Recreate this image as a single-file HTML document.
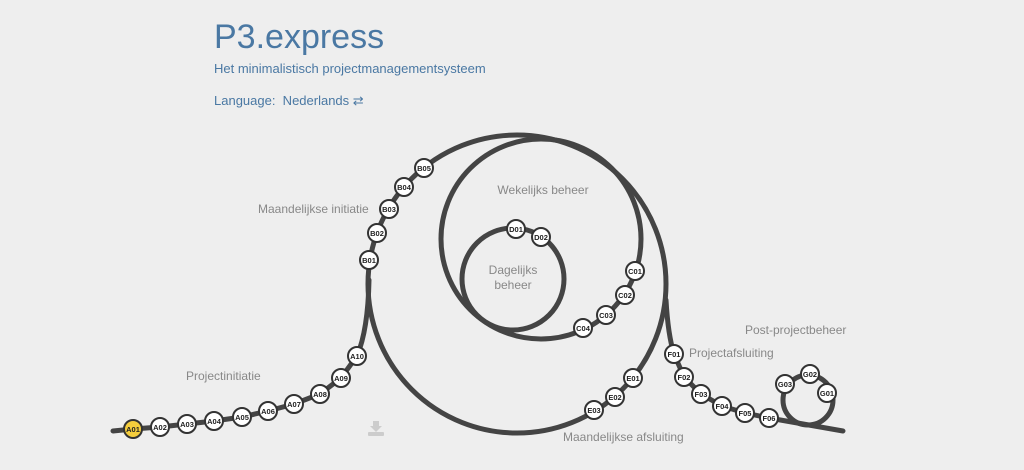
<!DOCTYPE html>
<html><head><meta charset="utf-8"><style>
html,body{margin:0;padding:0;background:#eeeeee;width:1024px;height:470px;overflow:hidden;font-family:"Liberation Sans",sans-serif}
.t{position:absolute;left:214px;color:#4a78a3}
</style></head><body>
<div class="t" style="top:18px;font-size:34px;">P3.express</div>
<div class="t" style="top:61px;font-size:13px;">Het minimalistisch projectmanagementsysteem</div>
<div class="t" style="top:93px;font-size:13px;">Language:&nbsp; Nederlands ⇄</div>
<svg width="1024" height="470" style="position:absolute;left:0;top:0" font-family="Liberation Sans, sans-serif">
<g fill="none" stroke="#444" stroke-width="5" stroke-linecap="round">
<circle cx="517" cy="284" r="149"/>
<circle cx="541" cy="239" r="100"/>
<circle cx="513" cy="279" r="51"/>
<circle cx="808" cy="400" r="25"/>
<path d="M113,431 L133,429 L160,427 L187,424 L214,421 L242,417 L268,411 L294,404 L320,394 L341,378 L357,356 Q368,330 369,280"/>
<path d="M666,300 Q668,335 674,354 L684,377 L701,394 L722,406 L745,413 L769,418 L843,431"/>
</g>
<g font-size="12" fill="#888">
<text x="186" y="380">Projectinitiatie</text>
<text x="258" y="213">Maandelijkse initiatie</text>
<text x="543" y="194" text-anchor="middle">Wekelijks beheer</text>
<text x="513" y="274" text-anchor="middle">Dagelijks</text>
<text x="513" y="289" text-anchor="middle">beheer</text>
<text x="745" y="334">Post-projectbeheer</text>
<text x="689" y="357">Projectafsluiting</text>
<text x="563" y="441">Maandelijkse afsluiting</text>
</g>
<g stroke="#333" stroke-width="2" fill="#fff">
<circle cx="133" cy="429" r="9" fill="#f5cd3c"/>
<circle cx="160" cy="427" r="9"/><circle cx="187" cy="424" r="9"/><circle cx="214" cy="421" r="9"/>
<circle cx="242" cy="417" r="9"/><circle cx="268" cy="411" r="9"/><circle cx="294" cy="404" r="9"/>
<circle cx="320" cy="394" r="9"/><circle cx="341" cy="378" r="9"/><circle cx="357" cy="356" r="9"/>
<circle cx="369" cy="260" r="9"/><circle cx="377" cy="233" r="9"/><circle cx="389" cy="209" r="9"/>
<circle cx="404" cy="187" r="9"/><circle cx="424" cy="168" r="9"/>
<circle cx="635" cy="271" r="9"/><circle cx="625" cy="295" r="9"/><circle cx="606" cy="315" r="9"/><circle cx="583" cy="328" r="9"/>
<circle cx="516" cy="229" r="9"/><circle cx="541" cy="237" r="9"/>
<circle cx="633" cy="378" r="9"/><circle cx="615" cy="397" r="9"/><circle cx="594" cy="410" r="9"/>
<circle cx="674" cy="354" r="9"/><circle cx="684" cy="377" r="9"/><circle cx="701" cy="394" r="9"/>
<circle cx="722" cy="406" r="9"/><circle cx="745" cy="413" r="9"/><circle cx="769" cy="418" r="9"/>
<circle cx="827" cy="393" r="9"/><circle cx="810" cy="374" r="9"/><circle cx="785" cy="384" r="9"/>
</g>
<g font-size="7.5" font-weight="bold" fill="#222" text-anchor="middle">
<text x="133" y="432">A01</text><text x="160" y="430">A02</text><text x="187" y="427">A03</text><text x="214" y="424">A04</text>
<text x="242" y="420">A05</text><text x="268" y="414">A06</text><text x="294" y="407">A07</text><text x="320" y="397">A08</text>
<text x="341" y="381">A09</text><text x="357" y="359">A10</text>
<text x="369" y="263">B01</text><text x="377" y="236">B02</text><text x="389" y="212">B03</text><text x="404" y="190">B04</text><text x="424" y="171">B05</text>
<text x="635" y="274">C01</text><text x="625" y="298">C02</text><text x="606" y="318">C03</text><text x="583" y="331">C04</text>
<text x="516" y="232">D01</text><text x="541" y="240">D02</text>
<text x="633" y="381">E01</text><text x="615" y="400">E02</text><text x="594" y="413">E03</text>
<text x="674" y="357">F01</text><text x="684" y="380">F02</text><text x="701" y="397">F03</text>
<text x="722" y="409">F04</text><text x="745" y="416">F05</text><text x="769" y="421">F06</text>
<text x="827" y="396">G01</text><text x="810" y="377">G02</text><text x="785" y="387">G03</text>
</g>
<g fill="#ccc"><rect x="373" y="421" width="6" height="6"/><polygon points="370,426 382,426 376,432"/><rect x="368" y="432" width="16" height="4" rx="1"/></g>
</svg>
</body></html>
